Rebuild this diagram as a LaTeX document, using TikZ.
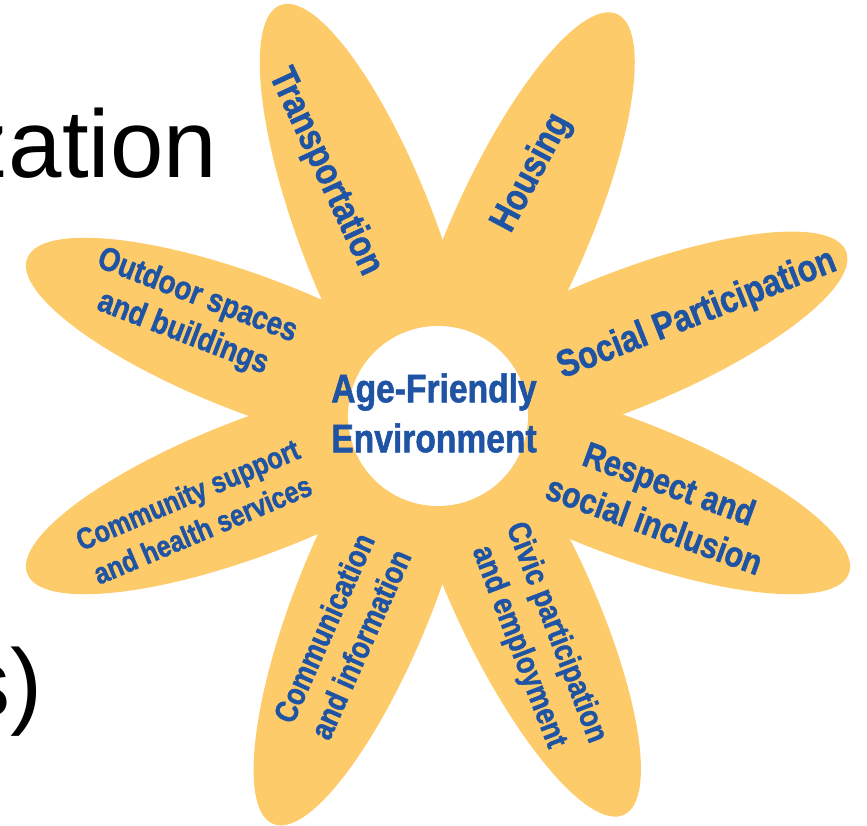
\documentclass[tikz,border=0pt]{standalone}
\usepackage{fontspec}
\setmainfont{Liberation Sans}
\newfontfamily\pf[FakeStretch=0.84, BoldFeatures={FakeBold=1.3}]{Liberation Sans}
\definecolor{petal}{HTML}{FDCB69}
\definecolor{ink}{HTML}{1F54A5}
\begin{document}
\begin{tikzpicture}[x=1pt,y=1pt,
  petalshape/.style={fill=petal, draw=none},
  lab/.style={text=ink, align=center, inner sep=0pt},
  big/.style={font=\fontsize{96}{110}\selectfont, inner sep=0pt, anchor=base east}]
\useasboundingbox (0,0) rectangle (867,826);
\coordinate (c) at (438,410);
\foreach \a in {111,66,22,-21,-65,-112,-159,159}
  \fill[petalshape, shift={(c)}, rotate=\a] (195pt,0pt) ellipse [x radius=245pt, y radius=68pt];
\fill[white] (c) circle [radius=90pt];
\node[big] (t1) at (217,648) {zation};
\node[big] (t2) at (43,109) {s)};
\node[lab, font=\pf\bfseries\fontsize{40}{50}\selectfont] (center) at (434,413) {Age-Friendly\\Environment};
\node[lab, rotate=-65, font=\pf\bfseries\fontsize{38}{44}\selectfont] (tr) at (325,654) {Transportation};
\node[lab, rotate=62, font=\pf\bfseries\fontsize{38}{44}\selectfont] (ho) at (532,653) {Housing};
\node[lab, rotate=21.5, font=\pf\bfseries\fontsize{38}{44}\selectfont] (sp) at (697,511) {Social Participation};
\node[lab, rotate=-20, font=\pf\bfseries\fontsize{36}{44}\selectfont] (re) at (662,322) {Respect and\\social inclusion};
\node[lab, rotate=-69, font=\pf\bfseries\fontsize{32}{40}\selectfont] (ci) at (537,186) {Civic participation\\and employment};
\node[lab, rotate=66, font=\pf\bfseries\fontsize{32}{40}\selectfont] (co) at (342,190) {Communication\\and information};
\node[lab, rotate=23, font=\pf\bfseries\fontsize{30}{38}\selectfont] (cs) at (195,314) {Community support\\and health services};
\node[lab, rotate=-21, font=\pf\bfseries\fontsize{33}{40}\selectfont] (od) at (190,511) {Outdoor spaces\\and buildings};
\end{tikzpicture}
\end{document}
